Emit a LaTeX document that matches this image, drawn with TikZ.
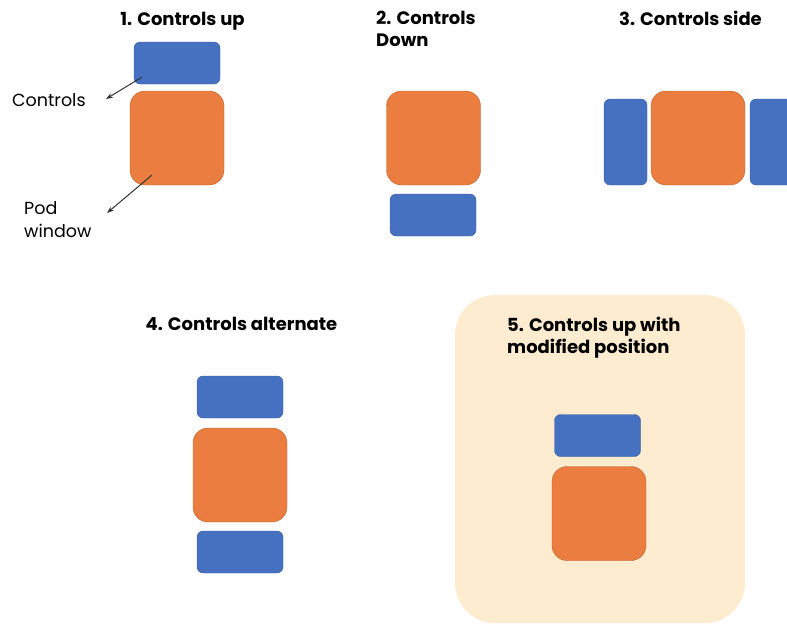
\documentclass[tikz,border=0pt]{standalone}
\usepackage{fontspec}
\setmainfont{Poppins}
\usetikzlibrary{arrows.meta}
\definecolor{ctrlblue}{HTML}{4571C0}
\definecolor{ctrledge}{HTML}{3A5E9E}
\definecolor{podorange}{HTML}{EB7D40}
\definecolor{podedge}{HTML}{B8622E}
\definecolor{highlight}{HTML}{FDECCF}

\begin{document}
\begin{tikzpicture}[x=1pt, y=-1pt, >={Stealth[length=7pt,width=5pt]},
	every node/.style={font=\fontsize{17.5}{23}\selectfont},
	title/.style={font=\bfseries\fontsize{18}{22}\selectfont, align=left, inner sep=0pt},
	ctrl/.style={draw=ctrledge, fill=ctrlblue, rounded corners=6pt, minimum width=86pt, minimum height=42pt, inner sep=0pt},
	sidectrl/.style={ctrl, minimum width=43pt, minimum height=86pt},
	pod/.style={draw=podedge, fill=podorange, rounded corners=15pt, minimum width=94pt, minimum height=94pt, inner sep=0pt},
	pointer/.style={->, draw=black!80, line width=1pt}]
	\useasboundingbox (0,0) rectangle (787,624);
	% 1. controls above the window
	\node[title, anchor=base] (t1) at (182.5,25) {1. Controls up};
	\node[ctrl] (c1) at (177,63) {};
	\node[pod] (p1) at (177,138) {};
	\node[anchor=base west, inner sep=0pt] (lctrl) at (12,106) {Controls};
	\node[anchor=north west, align=left, inner sep=0pt] (lpod) at (24,201) {Pod\\window};
	\coordinate (ctrlend) at (106,99);
	\coordinate (podend) at (107,213);
	\draw[pointer] ([shift={(8,-7)}]c1.south west) -- (ctrlend);
	\draw[pointer] ([shift={(22,-10)}]p1.south west) -- (podend);
	% 2. controls below
	\node[title, anchor=north west] (t2) at (376,11) {2. Controls\\Down};
	\node[pod] (p2) at (433.5,138) {};
	\node[ctrl] (c2) at (433,215) {};
	% 3. controls on both sides
	\node[title, anchor=base] (t3) at (690.5,25) {3. Controls side};
	\node[sidectrl] (s3a) at (625.5,142) {};
	\node[pod] (p3) at (698,138) {};
	\node[sidectrl] (s3b) at (771.5,142) {};
	% 4. controls above and below
	\node[title, anchor=base] (t4) at (241.5,330) {4. Controls alternate};
	\node[ctrl] (c4a) at (240,397) {};
	\node[pod] (p4) at (240,475) {};
	\node[ctrl] (c4b) at (240,552) {};
	% 5. highlighted variant
	\fill[highlight, rounded corners=40pt] (455,295) rectangle (745,623);
	\node[title, anchor=north west] (t5) at (507,317) {5. Controls up with\\modified position};
	\node[ctrl] (c5) at (597.5,435.5) {};
	\node[pod] (p5) at (599,513.5) {};
\end{tikzpicture}
\end{document}
